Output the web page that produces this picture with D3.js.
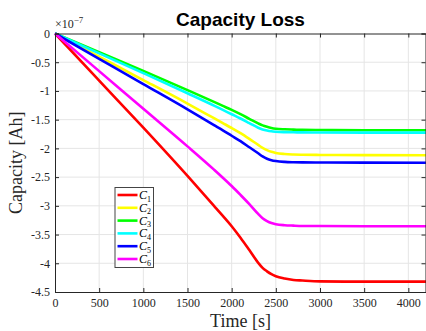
<!DOCTYPE html>
<html>
<head>
<meta charset="utf-8">
<script src="https://cdn.jsdelivr.net/npm/d3@7/dist/d3.min.js"></script>
<style>
  html, body { margin: 0; padding: 0; background: #fff; }
  svg { display: block; }
</style>
</head>
<body>
<svg id="chart" width="426" height="331"></svg>
<script>
// Time samples [s]
const time = [0, 500, 1000, 1500, 1800, 1900, 2000, 2100, 2200, 2300, 2350, 2400, 2450, 2500, 2600, 2700, 2800, 3000, 3500, 4200];

// Capacity loss per cell [×1e-7 Ah]
const c1 = [0, -0.82, -1.64, -2.48, -3.00, -3.175, -3.355, -3.555, -3.77, -3.99, -4.08, -4.14, -4.19, -4.225, -4.265, -4.29, -4.30, -4.315, -4.32, -4.32];
const c2 = [0, -0.405, -0.81, -1.22, -1.475, -1.56, -1.645, -1.735, -1.835, -1.94, -1.99, -2.03, -2.06, -2.08, -2.098, -2.106, -2.11, -2.114, -2.118, -2.12];
const c3 = [0, -0.325, -0.65, -0.985, -1.19, -1.26, -1.33, -1.405, -1.485, -1.565, -1.60, -1.625, -1.645, -1.658, -1.668, -1.673, -1.677, -1.68, -1.683, -1.685];
const c4 = [0, -0.345, -0.69, -1.04, -1.255, -1.33, -1.405, -1.48, -1.56, -1.64, -1.67, -1.69, -1.703, -1.71, -1.717, -1.72, -1.722, -1.723, -1.725, -1.725];
const c5 = [0, -0.44, -0.88, -1.32, -1.595, -1.685, -1.78, -1.875, -1.98, -2.085, -2.14, -2.18, -2.205, -2.22, -2.235, -2.241, -2.244, -2.246, -2.248, -2.25];
const c6 = [0, -0.655, -1.31, -1.965, -2.37, -2.51, -2.655, -2.81, -2.97, -3.14, -3.215, -3.265, -3.30, -3.32, -3.338, -3.345, -3.35, -3.352, -3.355, -3.355];

const seriesNames = ["1", "2", "3", "4", "5", "6"];
const seriesValues = [c1, c2, c3, c4, c5, c6];
const seriesColors = ["#ff0000", "#ffff00", "#00ff00", "#00ffff", "#0000ff", "#ff00ff"];

const xTicks = [0, 500, 1000, 1500, 2000, 2500, 3000, 3500, 4000];
const yTicks = [0, -0.5, -1, -1.5, -2, -2.5, -3, -3.5, -4, -4.5];

const svg = d3.select("#chart");
const plotLeft = 55, plotRight = 426, plotTop = 33.5, plotBottom = 292;

const x = d3.scaleLinear().domain([0, 4200]).range([plotLeft, plotRight]);
const y = d3.scaleLinear().domain([-4.5, 0]).range([plotBottom, plotTop]);

const serif = "'Liberation Serif', 'DejaVu Serif', serif";
const axisColor = "#262626";

// grid
const grid = svg.append("g");
grid.selectAll(".gx").data(xTicks.slice(1)).join("line")
  .attr("x1", d => x(d)).attr("x2", d => x(d))
  .attr("y1", plotTop).attr("y2", plotBottom)
  .attr("stroke", "#e5e5e5").attr("stroke-width", 1);
grid.selectAll(".gy").data(yTicks.slice(1, -1)).join("line")
  .attr("x1", plotLeft).attr("x2", plotRight)
  .attr("y1", d => y(d)).attr("y2", d => y(d))
  .attr("stroke", "#e5e5e5").attr("stroke-width", 1);

// series lines
const line = d3.line()
  .x((d, i) => x(time[i]))
  .y(d => y(d))
  .curve(d3.curveMonotoneX);

const lines = svg.append("g");
seriesValues.forEach((vals, k) => {
  lines.append("path")
    .datum(vals)
    .attr("d", line)
    .attr("fill", "none")
    .attr("stroke", seriesColors[k])
    .attr("stroke-width", 2.6)
    .attr("stroke-linejoin", "round");
});

// axes (box with inward ticks)
const tickLen = 4;
const xAxisB = d3.axisBottom(x).tickValues(xTicks).tickSize(-tickLen).tickPadding(6)
  .tickFormat(d3.format("d"));
const xAxisT = d3.axisTop(x).tickValues(xTicks).tickSize(-tickLen).tickFormat("");
const yAxisL = d3.axisLeft(y).tickValues(yTicks).tickSize(-tickLen).tickPadding(5)
  .tickFormat(d => d === 0 ? "0" : String(d));
const yAxisR = d3.axisRight(y).tickValues(yTicks).tickSize(-tickLen).tickFormat("");

function styleAxis(g) {
  g.attr("font-family", serif).attr("font-size", 12);
  g.select(".domain").attr("stroke", axisColor).attr("stroke-width", 1);
  g.selectAll(".tick line").attr("stroke", axisColor);
  g.selectAll(".tick text").attr("fill", axisColor);
}

svg.append("g").attr("transform", `translate(0,${plotBottom})`).call(xAxisB).call(styleAxis);
svg.append("g").attr("transform", `translate(0,${plotTop})`).call(xAxisT).call(styleAxis);
svg.append("g").attr("transform", `translate(${plotLeft},0)`).call(yAxisL).call(styleAxis);
svg.append("g").attr("transform", `translate(${plotRight - 0.5},0)`).call(yAxisR).call(styleAxis);

// exponent marker
const expo = svg.append("text")
  .attr("x", plotLeft).attr("y", 27.5)
  .attr("fill", axisColor)
  .style("font-family", serif).style("font-size", "12px");
expo.append("tspan").text("\u00d710");
expo.append("tspan").attr("dy", -5).style("font-size", "9px").text("\u22127");

// title
svg.append("text")
  .attr("x", (plotLeft + plotRight) / 2).attr("y", 26)
  .attr("text-anchor", "middle")
  .style("font-family", "'Liberation Sans', Arial, sans-serif")
  .style("font-weight", "bold").style("font-size", "19px")
  .attr("fill", "#000")
  .text("Capacity Loss");

// axis labels
svg.append("text")
  .attr("x", (plotLeft + plotRight) / 2).attr("y", 327)
  .attr("text-anchor", "middle")
  .style("font-family", serif).style("font-size", "18px")
  .attr("fill", axisColor)
  .text("Time [s]");

svg.append("text")
  .attr("transform", `translate(22,${(plotTop + plotBottom) / 2}) rotate(-90)`)
  .attr("text-anchor", "middle")
  .style("font-family", serif).style("font-size", "18px")
  .attr("fill", axisColor)
  .text("Capacity [Ah]");

// legend
const lg = svg.append("g").attr("transform", "translate(115,187.5)");
lg.append("rect")
  .attr("width", 38.5).attr("height", 80)
  .attr("fill", "#fff").attr("stroke", "#444").attr("stroke-width", 1);
seriesNames.forEach((name, k) => {
  const cy = 7.5 + k * 12.8;
  lg.append("line")
    .attr("x1", 2.5).attr("x2", 22.5).attr("y1", cy).attr("y2", cy)
    .attr("stroke", seriesColors[k]).attr("stroke-width", 2.6);
  const t = lg.append("text")
    .attr("x", 24).attr("y", cy + 4)
    .attr("fill", "#000")
    .style("font-family", serif).style("font-size", "12px");
  t.append("tspan").style("font-style", "italic").text("C");
  t.append("tspan").attr("dy", 2.5).style("font-size", "8px").text(name);
});
</script>
</body>
</html>
